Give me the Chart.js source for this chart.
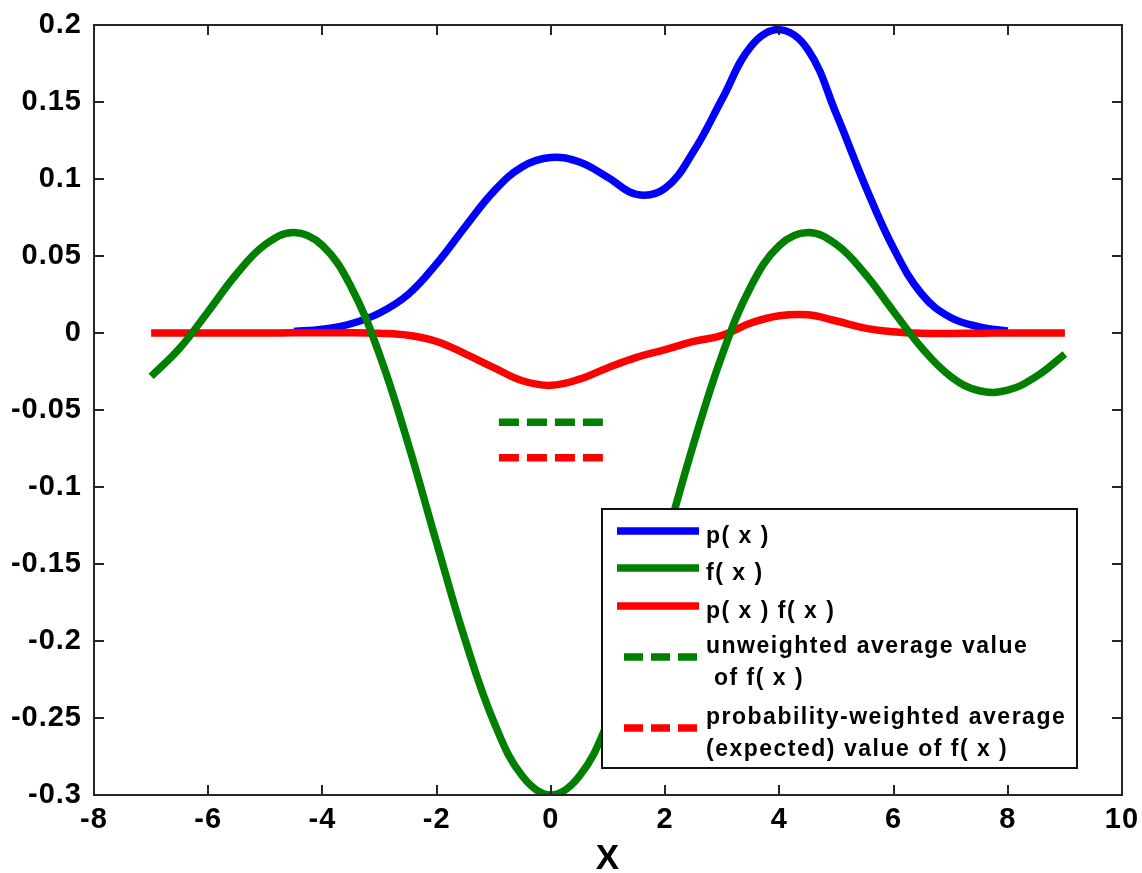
<!DOCTYPE html>
<html>
<head>
<meta charset="utf-8">
<script src="https://cdn.jsdelivr.net/npm/chart.js@4.4.1/dist/chart.umd.min.js"></script>
<style>
  html, body { margin: 0; padding: 0; background: #fff; }
  #wrap { width: 1142px; height: 873px; }
</style>
</head>
<body>
<div id="wrap"><canvas id="chart"></canvas></div>
<script>
// values
const xF = [-7, -6.5, -6, -5.5, -5, -4.5, -4, -3.5, -3, -2.5, -2, -1.5, -1, -0.5, 0,
  0.5, 1, 1.5, 2, 2.5, 3, 3.5, 4, 4.5, 5, 5.5, 6, 6.5, 7, 7.5, 8, 8.5, 9];
const fValues = [-0.0282, -0.0099, 0.0140, 0.0385, 0.0575, 0.0652, 0.0568, 0.0301, -0.0141,
  -0.0718, -0.1364, -0.1995, -0.2524, -0.2877, -0.3000, -0.2877, -0.2524, -0.1995, -0.1364,
  -0.0718, -0.0141, 0.0301, 0.0568, 0.0652, 0.0575, 0.0385, 0.0140, -0.0099, -0.0282,
  -0.0375, -0.0371, -0.0282, -0.0137];
const pfValues = [0, 0, 0, 0, 0, 0.0001, 0.0001, 0.0002, -0.0002, -0.0015, -0.0055, -0.0135,
  -0.0225, -0.031, -0.034, -0.030, -0.0225, -0.0158, -0.0108, -0.0055, -0.0015, 0.0065,
  0.0112, 0.0118, 0.0078, 0.0032, 0.0008, -0.0002, -0.0003, -0.0001, 0, 0, 0];

const xP = [-4.5, -4, -3.5, -3, -2.5, -2, -1.5, -1, -0.5, 0, 0.5, 1, 1.5, 2, 2.5, 3, 3.5,
  4, 4.5, 5, 5.5, 6, 6.5, 7, 7.5, 8];
const pValues = [0.001, 0.0025, 0.006, 0.013, 0.025, 0.045, 0.069, 0.092, 0.108, 0.114,
  0.111, 0.101, 0.090, 0.094, 0.118, 0.152, 0.186, 0.197, 0.184, 0.142, 0.096, 0.055,
  0.025, 0.010, 0.004, 0.0013];

const avgRange = [-0.91, 0.91];
const unweightedAvg = -0.058;
const weightedAvg = -0.081;

const xTicks = [-8, -6, -4, -2, 0, 2, 4, 6, 8, 10];
const xTickLabels = ['-8', '-6', '-4', '-2', '0', '2', '4', '6', '8', '10'];
const yTicks = [-0.3, -0.25, -0.2, -0.15, -0.1, -0.05, 0, 0.05, 0.1, 0.15, 0.2];
const yTickLabels = ['-0.3', '-0.25', '-0.2', '-0.15', '-0.1', '-0.05', '0', '0.05', '0.1', '0.15', '0.2'];

const FONT = '"Liberation Sans", Arial, Helvetica, sans-serif';

function pts(xs, ys) {
  return xs.map((x, i) => ({ x: x, y: ys[i] }));
}

// box round the axes with inward ticks on all four sides
const axesBox = {
  id: 'axesBox',
  beforeDraw(chart) {
    chart.ctx.letterSpacing = '1px';
  },
  afterDatasetsDraw(chart) {
    const { ctx, chartArea: a, scales: { x, y } } = chart;
    const tl = 10;
    ctx.save();
    ctx.strokeStyle = '#262626';
    ctx.lineWidth = 2;
    ctx.strokeRect(a.left, a.top, a.right - a.left, a.bottom - a.top);
    ctx.beginPath();
    x.ticks.forEach(t => {
      const px = Math.round(x.getPixelForValue(t.value));
      ctx.moveTo(px, a.bottom); ctx.lineTo(px, a.bottom - tl);
      ctx.moveTo(px, a.top); ctx.lineTo(px, a.top + tl);
    });
    y.ticks.forEach(t => {
      const py = Math.round(y.getPixelForValue(t.value));
      ctx.moveTo(a.left, py); ctx.lineTo(a.left + tl, py);
      ctx.moveTo(a.right, py); ctx.lineTo(a.right - tl, py);
    });
    ctx.stroke();
    ctx.restore();
  }
};

// MATLAB style legend box inside the axes
const boxLegend = {
  id: 'boxLegend',
  afterDraw(chart) {
    const ctx = chart.ctx;
    const box = { left: 602, top: 509, right: 1077, bottom: 768 };
    const rowY = [531, 568, 606, 657, 728];
    ctx.save();
    ctx.fillStyle = '#fff';
    ctx.fillRect(box.left, box.top, box.right - box.left, box.bottom - box.top);
    ctx.strokeStyle = '#111';
    ctx.lineWidth = 2;
    ctx.setLineDash([]);
    ctx.strokeRect(box.left, box.top, box.right - box.left, box.bottom - box.top);

    chart.data.datasets.forEach((ds, i) => {
      const y = rowY[i];
      ctx.strokeStyle = ds.borderColor;
      ctx.lineWidth = ds.borderWidth;
      ctx.lineCap = 'butt';
      ctx.beginPath();
      if (ds.borderDash) {
        ctx.setLineDash([19, 8]);
        ctx.moveTo(624, y); ctx.lineTo(697, y);
      } else {
        ctx.setLineDash([]);
        ctx.moveTo(617, y); ctx.lineTo(699, y);
      }
      ctx.stroke();

      const lines = ds.label.split('\n');
      ctx.fillStyle = '#000';
      ctx.font = 'bold 23px ' + FONT;
      ctx.letterSpacing = '1.5px';
      ctx.textAlign = 'left';
      ctx.textBaseline = 'alphabetic';
      if (lines.length === 1) {
        ctx.fillText(lines[0], 706, y + 12);
      } else {
        ctx.fillText(lines[0], 706, y - 4);
        ctx.fillText(lines[1], 706, y + 28);
      }
    });
    ctx.restore();
  }
};

new Chart(document.getElementById('chart'), {
  type: 'line',
  data: {
    datasets: [
      { label: 'p( x )', data: pts(xP, pValues), borderColor: '#0000ff', borderWidth: 7.5,
        pointRadius: 0, tension: 0.4, order: 3, clip: 0 },
      { label: 'f( x )', data: pts(xF, fValues), borderColor: '#007f00', borderWidth: 7.5,
        pointRadius: 0, tension: 0.4, order: 1, clip: 0 },
      { label: 'p( x ) f( x )', data: pts(xF, pfValues), borderColor: '#ff0000', borderWidth: 7.5,
        pointRadius: 0, tension: 0.4, order: 2, clip: 0 },
      { label: 'unweighted average value\n of f( x )',
        data: pts(avgRange, [unweightedAvg, unweightedAvg]), borderColor: '#007f00',
        borderWidth: 7.5, borderDash: [20, 8], pointRadius: 0, order: 0, clip: 0 },
      { label: 'probability-weighted average\n(expected) value of f( x )',
        data: pts(avgRange, [weightedAvg, weightedAvg]), borderColor: '#ff0000',
        borderWidth: 7.5, borderDash: [20, 8], pointRadius: 0, order: 0, clip: 0 }
    ]
  },
  options: {
    responsive: true,
    maintainAspectRatio: false,
    animation: false,
    layout: { padding: { top: 25, right: 20, left: 0, bottom: 0 } },
    plugins: {
      legend: { display: false },
      tooltip: { enabled: false }
    },
    scales: {
      x: {
        type: 'linear',
        min: -8,
        max: 10,
        grid: { display: false, drawTicks: false },
        border: { display: false },
        afterBuildTicks: s => { s.ticks = xTicks.map(v => ({ value: v })); },
        afterFit: s => { s.height = 78; s.paddingLeft = 0; s.paddingRight = 0; },
        ticks: {
          padding: 8,
          color: '#000',
          maxRotation: 0,
          font: { family: FONT, size: 29, weight: 'bold' },
          callback: (v, i) => xTickLabels[i]
        },
        title: {
          display: true,
          text: 'X',
          color: '#000',
          padding: 0,
          font: { family: FONT, size: 35, weight: 'bold', lineHeight: 0.8 }
        }
      },
      y: {
        type: 'linear',
        min: -0.3,
        max: 0.2,
        grid: { display: false, drawTicks: false },
        border: { display: false },
        afterBuildTicks: s => { s.ticks = yTicks.map(v => ({ value: v })); },
        afterFit: s => { s.width = 94; s.paddingTop = 0; s.paddingBottom = 0; },
        ticks: {
          padding: 12,
          color: '#000',
          font: { family: FONT, size: 29, weight: 'bold' },
          callback: (v, i) => yTickLabels[i]
        }
      }
    }
  },
  plugins: [axesBox, boxLegend]
});
</script>
</body>
</html>
